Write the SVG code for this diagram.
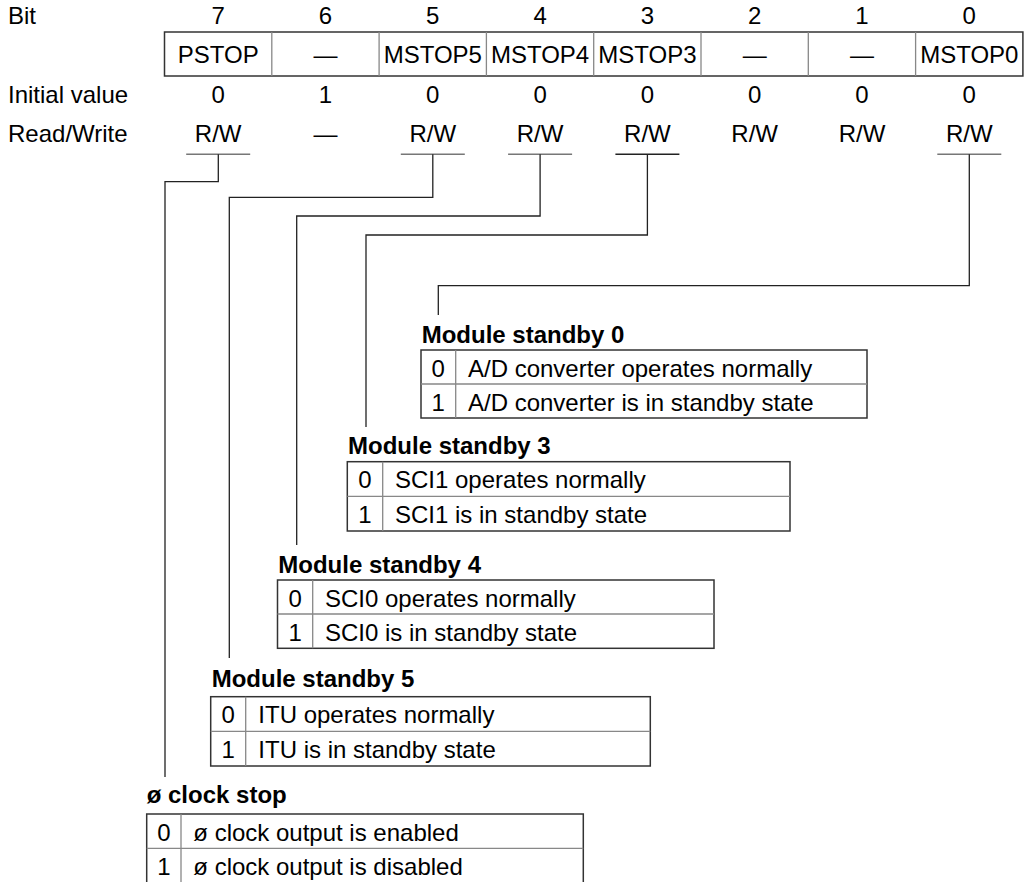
<svg xmlns="http://www.w3.org/2000/svg" width="1028" height="882" viewBox="0 0 1028 882">
<style>
text{font-family:"Liberation Sans",Arial,sans-serif;font-size:24px;fill:#000}
.c{text-anchor:middle}
.b{font-weight:bold}
.outer{fill:none;stroke:#333;stroke-width:1.5}
.inner{fill:none;stroke:#888;stroke-width:1.3}
.ul{stroke:#777;stroke-width:1.5}
.ul2{stroke:#222;stroke-width:1.5}
.con{fill:none;stroke:#222;stroke-width:1.3}
</style>
<rect width="1028" height="882" fill="#fff"/>
<g id="labels">
<text x="8" y="24">Bit</text>
<text x="8" y="103">Initial value</text>
<text x="8" y="142">Read/Write</text>
</g>
<g id="register">
<text x="218.2" y="24" class="c">7</text>
<text x="325.5" y="24" class="c">6</text>
<text x="432.8" y="24" class="c">5</text>
<text x="540.1" y="24" class="c">4</text>
<text x="647.4" y="24" class="c">3</text>
<text x="754.7" y="24" class="c">2</text>
<text x="862" y="24" class="c">1</text>
<text x="969.3" y="24" class="c">0</text>
<rect class="outer" x="164.5" y="32" width="858.4" height="44"/>
<path class="inner" d="M271.8 32V76M379.1 32V76M486.4 32V76M593.7 32V76M701 32V76M808.3 32V76M915.6 32V76"/>
<text x="218.2" y="62.5" class="c">PSTOP</text>
<text x="325.5" y="62.5" class="c">—</text>
<text x="432.8" y="62.5" class="c">MSTOP5</text>
<text x="540.1" y="62.5" class="c">MSTOP4</text>
<text x="647.4" y="62.5" class="c">MSTOP3</text>
<text x="754.7" y="62.5" class="c">—</text>
<text x="862" y="62.5" class="c">—</text>
<text x="969.3" y="62.5" class="c">MSTOP0</text>
<text x="218.2" y="103" class="c">0</text>
<text x="325.5" y="103" class="c">1</text>
<text x="432.8" y="103" class="c">0</text>
<text x="540.1" y="103" class="c">0</text>
<text x="647.4" y="103" class="c">0</text>
<text x="754.7" y="103" class="c">0</text>
<text x="862" y="103" class="c">0</text>
<text x="969.3" y="103" class="c">0</text>
<text x="218.2" y="142" class="c">R/W</text>
<text x="325.5" y="142" class="c">—</text>
<text x="432.8" y="142" class="c">R/W</text>
<text x="540.1" y="142" class="c">R/W</text>
<text x="647.4" y="142" class="c">R/W</text>
<text x="754.7" y="142" class="c">R/W</text>
<text x="862" y="142" class="c">R/W</text>
<text x="969.3" y="142" class="c">R/W</text>
<path class="ul" d="M186.2 154.3H250.2M400.8 154.3H464.8M508.1 154.3H572.1M937.3 154.3H1001.3"/>
<path class="ul2" d="M615.4 154.3H679.4"/>
</g>
<g id="connectors">
<path class="con" d="M218.3 154.3V181.7H165V777"/>
<path class="con" d="M432.8 154.3V197.3H229.3V658"/>
<path class="con" d="M540.1 154.3V216H296.7V545"/>
<path class="con" d="M647.4 154.3V235H366V427"/>
<path class="con" d="M969.3 154.3V285.7H438.3V315"/>
</g>
<g id="ms0">
<text x="421.7" y="342.5" class="b">Module standby 0</text>
<rect class="outer" x="421" y="350" width="446" height="68"/>
<path class="inner" d="M421 384H867M455.7 350V418"/>
<text x="438.3" y="376.5" class="c">0</text>
<text x="468" y="376.5">A/D converter operates normally</text>
<text x="438.3" y="410.5" class="c">1</text>
<text x="468" y="410.5">A/D converter is in standby state</text>
</g>
<g id="ms3">
<text x="348" y="454" class="b">Module standby 3</text>
<rect class="outer" x="347.3" y="461.7" width="442.7" height="69.3"/>
<path class="inner" d="M347.3 496.3H790M382.7 461.7V531"/>
<text x="365" y="488.2" class="c">0</text>
<text x="395" y="488.2">SCI1 operates normally</text>
<text x="365" y="522.8" class="c">1</text>
<text x="395" y="522.8">SCI1 is in standby state</text>
</g>
<g id="ms4">
<text x="278.3" y="573" class="b">Module standby 4</text>
<rect class="outer" x="277.5" y="580" width="436.5" height="68.3"/>
<path class="inner" d="M277.5 614H714M312.7 580V648.3"/>
<text x="295.1" y="606.5" class="c">0</text>
<text x="325" y="606.5">SCI0 operates normally</text>
<text x="295.1" y="640.8" class="c">1</text>
<text x="325" y="640.8">SCI0 is in standby state</text>
</g>
<g id="ms5">
<text x="211.7" y="686.7" class="b">Module standby 5</text>
<rect class="outer" x="210.7" y="696.7" width="439.6" height="69.3"/>
<path class="inner" d="M210.7 731.3H650.3M245.7 696.7V766"/>
<text x="228.2" y="723.2" class="c">0</text>
<text x="258.3" y="723.2">ITU operates normally</text>
<text x="228.2" y="757.8" class="c">1</text>
<text x="258.3" y="757.8">ITU is in standby state</text>
</g>
<g id="pstop">
<text x="146.7" y="803.3" class="b">ø clock stop</text>
<rect class="outer" x="146.7" y="814" width="436.6" height="72"/>
<path class="inner" d="M146.7 848.3H583.3M181 814V886"/>
<text x="163.9" y="840.5" class="c">0</text>
<text x="193.3" y="840.5">ø clock output is enabled</text>
<text x="163.9" y="874.8" class="c">1</text>
<text x="193.3" y="874.8">ø clock output is disabled</text>
</g>
</svg>
